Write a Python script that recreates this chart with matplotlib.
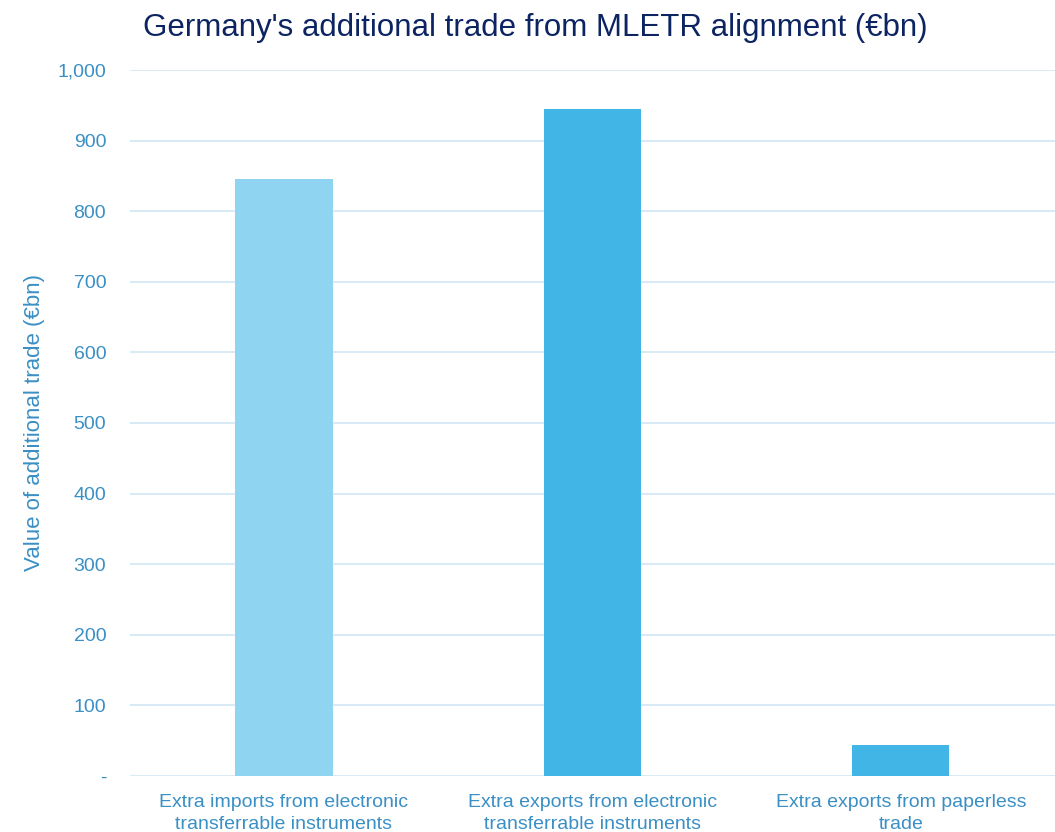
import matplotlib
matplotlib.use("Agg")
from matplotlib import pyplot as plt
from matplotlib.ticker import FuncFormatter

categories = ["Extra imports from electronic\ntransferrable instruments",
              "Extra exports from electronic\ntransferrable instruments",
              "Extra exports from paperless\ntrade"]
values = [846, 945, 44]
bar_colors = ["#8fd4f0", "#41b6e6", "#41b6e6"]

plt.rcParams["font.family"] = ["Liberation Sans", "DejaVu Sans"]

tick_col = "#3a8fc4"
fig = plt.figure(figsize=(10.55, 8.32), dpi=100)
ax = fig.add_axes([0.123, 0.0673, 0.877, 0.8486])

x = range(len(categories))
ax.bar(x, values, width=0.315, color=bar_colors, zorder=3)

ax.set_ylim(0, 1000)
ax.set_xlim(-0.5, 2.5)
ax.set_yticks(range(0, 1001, 100))
ax.yaxis.set_major_formatter(FuncFormatter(lambda v, p: "-" if v == 0 else f"{int(v):,}"))
ax.set_xticks(list(x))
ax.set_xticklabels(categories, linespacing=1.35)
ax.grid(axis="y", color="#d3e8f4", linewidth=1.3, zorder=0)
for s in ax.spines.values():
    s.set_visible(False)
ax.tick_params(axis="both", length=0, colors=tick_col, labelsize=14)
ax.tick_params(axis="y", pad=17)
ax.tick_params(axis="x", pad=13)
ax.set_ylabel("Value of additional trade (€bn)", color=tick_col, fontsize=16, labelpad=9)

fig.suptitle("Germany's additional trade from MLETR alignment (€bn)",
             color="#0c2461", fontsize=22.5, x=0.507, y=0.984)

fig.savefig("out.png", dpi=100)
